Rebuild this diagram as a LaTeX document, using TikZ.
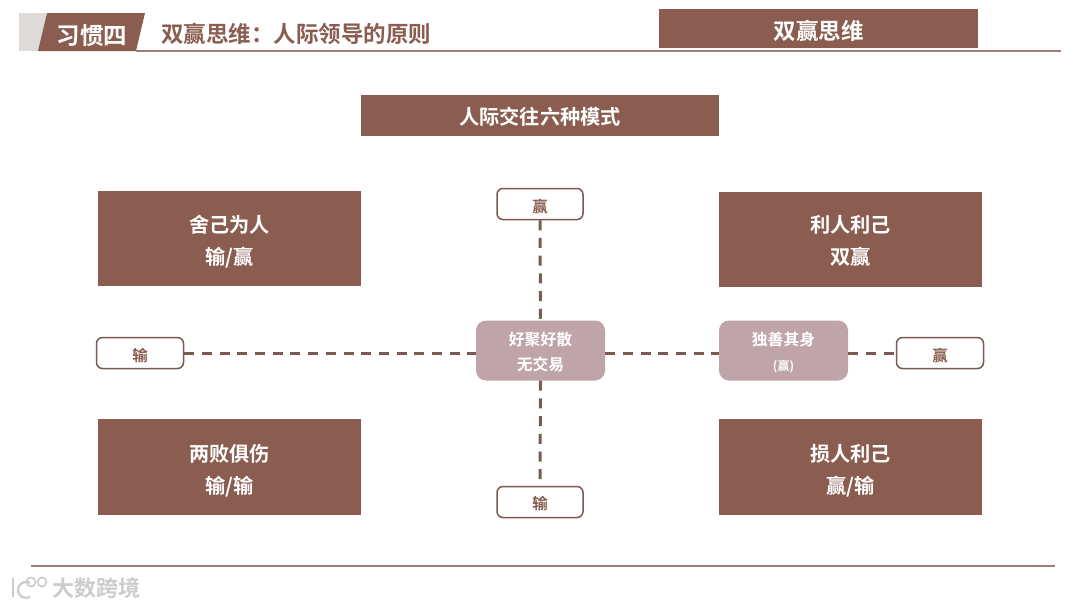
\documentclass[tikz,border=0pt]{standalone}
\usepackage{fontspec}
\setmainfont{Noto Sans CJK SC}[BoldFont={Noto Sans CJK SC Bold}]
\definecolor{brn}{HTML}{8A5D50}
\definecolor{pnk}{HTML}{BFA4AA}
\definecolor{dsh}{HTML}{7A5A52}
\definecolor{lin}{HTML}{9A7F78}
\newcommand\lowered[2]{\raisebox{#1}[\height][\depth]{#2}}
\newcommand\twolines[3]{\lowered{#1}{\begin{tabular}{@{}c@{}}#2\\#3\end{tabular}}}
\tikzset{
 x=1pt,y=-1pt,
 bbox/.style={fill=brn,draw=none,text=white,font=\bfseries\fontsize{20.2}{32}\selectfont,inner sep=0pt,anchor=center},
 pill/.style={fill=pnk,draw=none,rounded corners=10pt,text=white,font=\bfseries\fontsize{15.8}{25}\selectfont,inner sep=0pt,minimum width=129pt,minimum height=60pt},
 tag/.style={fill=white,draw=dsh,line width=1.5pt,rounded corners=6pt,text=brn,font=\bfseries\fontsize{15.5}{16}\selectfont,inner sep=0pt,minimum width=86pt,minimum height=31pt},
 dashline/.style={draw=dsh,line width=3pt,dash pattern=on 10pt off 7.7pt},
 wm/.style={draw=black!20,line width=1.6pt,fill=none},
}
\begin{document}
\begin{tikzpicture}
\useasboundingbox (0,0) rectangle (1080,608);
\fill[white] (0,0) rectangle (1080,608);
% header
\fill[gray!25!white!95!brown] (19,13) rectangle (46,51);
\fill[brn] (47,13) -- (145,13) -- (136,51) -- (38,51) -- cycle;
\draw[lin,line width=1.6pt] (136,51) -- (1061,51);
\node[font=\bfseries\fontsize{23.5}{24}\selectfont,text=white,inner sep=0pt] (habit) at (92,36) {习惯四};
\node[font=\bfseries\fontsize{22.5}{24}\selectfont,text=brn,inner sep=0pt,anchor=west] (title) at (161,33.5) {双赢思维：人际领导的原则};
\node[bbox,minimum width=319pt,minimum height=39pt,font=\bfseries\fontsize{22.5}{24}\selectfont] (tab) at (818.5,28.5) {\lowered{-2pt}{双赢思维}};
\node[bbox,minimum width=358pt,minimum height=41pt] (head) at (540,115.5) {\lowered{-1.5pt}{人际交往六种模式}};
% quadrants
\node[bbox,minimum width=263pt,minimum height=95pt] (q1) at (229.5,238.5) {\twolines{-4pt}{舍己为人}{输/赢}};
\node[bbox,minimum width=263pt,minimum height=95pt] (q2) at (850.5,239) {\twolines{-3pt}{利人利己}{双赢}};
\node[bbox,minimum width=263pt,minimum height=96pt] (q3) at (229.5,467) {\twolines{-4pt}{两败俱伤}{输/输}};
\node[bbox,minimum width=263pt,minimum height=96pt] (q4) at (850.5,467) {\twolines{-4pt}{损人利己}{赢/输}};
% nodes
\node[pill] (c) at (540.5,350.5) {\twolines{-2.5pt}{好聚好散}{无交易}};
\node[pill] (r) at (783.5,350.5) {\twolines{-2.5pt}{独善其身}{{\fontsize{12}{12}\selectfont (赢)}}};
\node[tag] (top) at (540,204) {\lowered{-2.5pt}{赢}};
\node[tag] (bot) at (540,502) {\lowered{-2pt}{输}};
\node[tag,minimum width=87pt] (left) at (140,353) {\lowered{-3pt}{输}};
\node[tag,minimum width=87pt] (right) at (940,353) {\lowered{-3pt}{赢}};
% connectors
\draw[dashline] (left.east) -- (c.west |- left.east);
\draw[dashline] (c.east |- left.east) -- (r.west |- left.east);
\draw[dashline] (r.east |- right.west) -- (right.west);
\draw[dashline] (top.south) -- (c.north);
\draw[dashline] (c.south) -- (bot.north);
% footer
\draw[lin,line width=1.6pt] (31,566) -- (1055,566);
% watermark logo
\draw[wm,line width=2.4pt] (13,578) -- (13,597);
\draw[wm,line width=2.2pt] (30,583) arc[start angle=60,end angle=300,radius=8pt];
\draw[wm] (31,582) circle[radius=4.5pt];
\draw[wm] (42,582) circle[radius=4.5pt];
\node[font=\bfseries\fontsize{22}{23}\selectfont,text=black!20,inner sep=0pt,anchor=west] (mark) at (52,588) {大数跨境};
\end{tikzpicture}
\end{document}
